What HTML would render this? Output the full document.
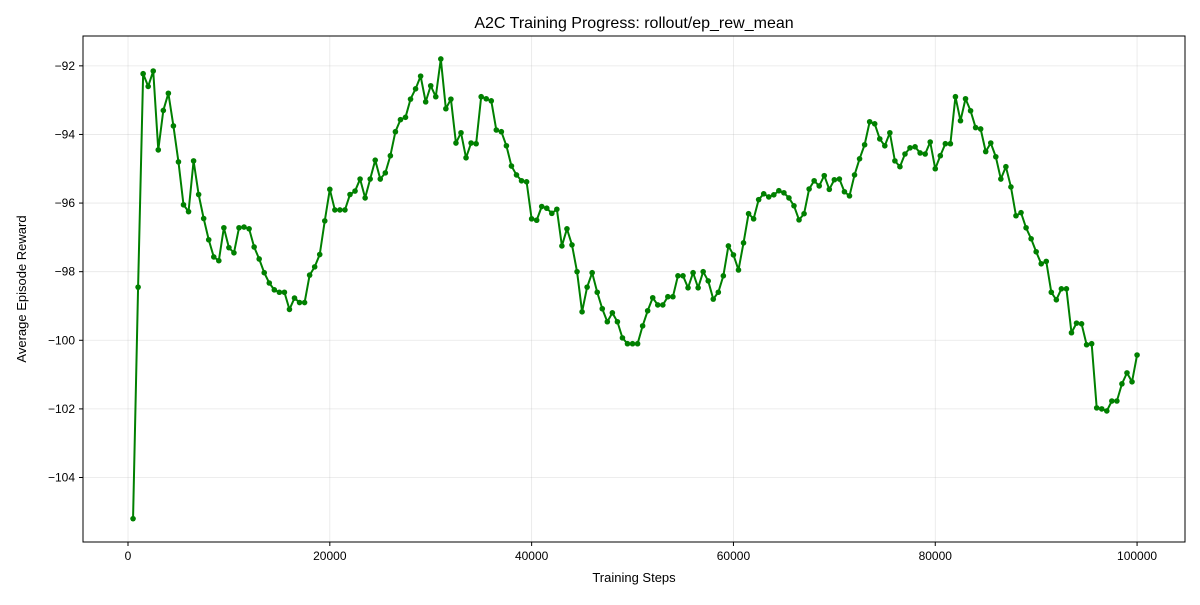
<!DOCTYPE html>
<html><head><meta charset="utf-8"><style>
body{margin:0;background:#fff}
svg text{font-family:"Liberation Sans","DejaVu Sans",sans-serif;fill:#000}
</style></head><body>
<svg id="chart" width="1200" height="600" xmlns="http://www.w3.org/2000/svg">
<rect width="1200" height="600" fill="#fff"/>
<g id="grid"></g>
<g id="axes"></g>
<g id="series"></g>
<rect x="83" y="36" width="1102" height="506" fill="none" stroke="#000" stroke-width="1"/>
<text x="634" y="28" font-size="16" text-anchor="middle">A2C Training Progress: rollout/ep_rew_mean</text>
<text x="634" y="582" font-size="13" text-anchor="middle">Training Steps</text>
<text transform="translate(26,289) rotate(-90)" font-size="13" text-anchor="middle">Average Episode Reward</text>
</svg>
<script>
const xTicks=[0,20000,40000,60000,80000,100000];
const yTicks=[-104,-102,-100,-98,-96,-94,-92];
const rewards=[-105.2,-98.45,-92.23,-92.6,-92.15,-94.45,-93.3,-92.8,-93.75,-94.8,
-96.05,-96.25,-94.77,-95.75,-96.45,-97.07,-97.57,-97.68,-96.72,-97.3,
-97.45,-96.72,-96.7,-96.75,-97.28,-97.63,-98.03,-98.33,-98.53,-98.6,
-98.6,-99.1,-98.77,-98.9,-98.9,-98.1,-97.86,-97.5,-96.52,-95.6,
-96.2,-96.2,-96.2,-95.75,-95.65,-95.3,-95.85,-95.3,-94.75,-95.3,
-95.12,-94.62,-93.92,-93.57,-93.5,-92.97,-92.67,-92.3,-93.05,-92.58,
-92.9,-91.8,-93.25,-92.97,-94.25,-93.95,-94.68,-94.25,-94.27,-92.9,
-92.96,-93.02,-93.87,-93.92,-94.33,-94.92,-95.18,-95.35,-95.38,-96.46,
-96.5,-96.1,-96.15,-96.3,-96.18,-97.25,-96.75,-97.22,-98.0,-99.17,
-98.45,-98.03,-98.6,-99.08,-99.46,-99.2,-99.46,-99.93,-100.1,-100.1,
-100.1,-99.58,-99.14,-98.76,-98.97,-98.97,-98.73,-98.73,-98.12,-98.12,
-98.47,-98.03,-98.47,-98.0,-98.27,-98.8,-98.6,-98.12,-97.25,-97.51,
-97.95,-97.16,-96.31,-96.46,-95.9,-95.73,-95.82,-95.76,-95.64,-95.7,
-95.85,-96.08,-96.49,-96.31,-95.59,-95.35,-95.5,-95.2,-95.6,-95.32,
-95.3,-95.67,-95.79,-95.18,-94.71,-94.3,-93.63,-93.69,-94.13,-94.33,
-93.95,-94.77,-94.94,-94.57,-94.39,-94.36,-94.54,-94.57,-94.22,-95.0,
-94.62,-94.27,-94.27,-92.9,-93.6,-92.96,-93.31,-93.8,-93.84,-94.5,
-94.25,-94.65,-95.3,-94.94,-95.53,-96.37,-96.28,-96.72,-97.04,-97.42,
-97.77,-97.7,-98.6,-98.82,-98.5,-98.5,-99.78,-99.5,-99.52,-100.13,
-100.1,-101.97,-102.0,-102.06,-101.77,-101.77,-101.27,-100.95,-101.21,-100.43];
const steps=rewards.map((_,i)=>(i+1)*500);

const L=83,R=1185,T=36,B=542;
const xMin=-4460,xMax=104750,yMin=-105.88,yMax=-91.13;
const sx=v=>L+(v-xMin)/(xMax-xMin)*(R-L);
const sy=v=>B-(v-yMin)/(yMax-yMin)*(B-T);
const NS="http://www.w3.org/2000/svg";
function mk(tag,attrs,parent){const e=document.createElementNS(NS,tag);for(const k in attrs)e.setAttribute(k,attrs[k]);parent.appendChild(e);return e;}
const grid=document.getElementById('grid'),axes=document.getElementById('axes'),series=document.getElementById('series');
xTicks.forEach(t=>{const x=sx(t);
 const g=mk('line',{x1:x,x2:x,y1:T,y2:B,stroke:'#b0b0b0','stroke-opacity':0.3,'stroke-width':0.8},grid);
 
 
 const tk=mk('line',{x1:x,x2:x,y1:B,y2:B+4,stroke:'#000'},axes);
 
 
 const lb=mk('text',{x:x,y:B+18,'font-size':12,'text-anchor':'middle'},axes);
 lb.textContent=String(t);
 
 
});
yTicks.forEach(t=>{const y=sy(t);
 const g=mk('line',{x1:L,x2:R,y1:y,y2:y,stroke:'#b0b0b0','stroke-opacity':0.3,'stroke-width':0.8},grid);
 
 
 const tk=mk('line',{x1:L-4,x2:L,y1:y,y2:y,stroke:'#000'},axes);
 
 
 const lb=mk('text',{x:L-8,y:y+4,'font-size':12,'text-anchor':'end'},axes);
 lb.textContent=t<0?'\u2212'+Math.abs(t):String(t);
 
 
});
const pts=steps.map((s,i)=>sx(s).toFixed(2)+','+sy(rewards[i]).toFixed(2)).join(' ');
const line=mk('polyline',{points:pts,fill:'none',stroke:'#008000','stroke-width':2,'stroke-linejoin':'round'},series);


steps.forEach((s,i)=>{
 const c=mk('circle',{cx:sx(s),cy:sy(rewards[i]),r:2.8,fill:'#008000'},series);
 
 
});
</script>
</body></html>
